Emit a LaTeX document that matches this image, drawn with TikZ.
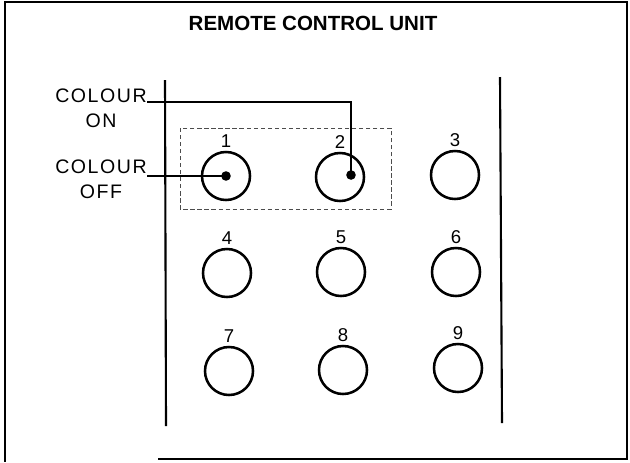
\documentclass[tikz,border=0pt]{standalone}
\usepackage{fontspec}
\setmainfont{Liberation Sans}
\usetikzlibrary{positioning}
\tikzset{
  button/.style={circle, draw, line width=1.8pt, minimum size=1.2cm, inner sep=0pt},
  numlab/.style={inner sep=2pt, font=\fontsize{13.2}{15}\selectfont},
  sidelab/.style={inner sep=0pt, font=\fontsize{13.9}{16}\addfontfeatures{LetterSpace=8}\selectfont},
  dot/.style={circle, fill, inner sep=0pt, minimum size=0.24cm},
  lead/.style={line width=1.1pt},
  rail/.style={line width=1.5pt},
  frame/.style={line width=1pt},
  group/.style={densely dashed, line width=0.4pt, black!70}
}
\begin{document}
\begin{tikzpicture}[x=0.025cm, y=-0.025cm]
    \useasboundingbox (0,0) rectangle (630,462);
    % outer border of the sheet
    \draw[frame] (158,459) -- (627,459) -- (627,2) -- (5,2) -- (5,462);
    \node[font=\fontsize{14.6}{16}\bfseries\selectfont] (ttl) at (313,23) {REMOTE CONTROL UNIT};
    % sides of the handset
    \draw[rail] (165,80) -- (166,426);
    \draw[rail] (500,77) -- (502,423);
    % keys 1 and 2 belong together
    \draw[group] (180,128) rectangle (391,209);
    \foreach \n/\px/\py in {1/226/176, 2/340/177, 3/455/175,
                            4/227/273, 5/341/272, 6/456/272,
                            7/229/371, 8/343/370, 9/458/368}
      \node[button, label={[numlab]above:\n}] (b\n) at (\px,\py) {};
    \node[dot] (d1) at (b1.center) {};
    \node[dot] (d2) at (351,175) {};
    % leader labels
    \node[sidelab, anchor=base east] (colon) at (147,102) {COLOUR};
    \node[sidelab, below=7.8pt of colon] (on) {ON};
    \node[sidelab, anchor=base east] (coloff) at (147,173) {COLOUR};
    \node[sidelab, below=7.8pt of coloff] (off) {OFF};
    \draw[lead] (colon.base east) -| (d2.center);
    \draw[lead] (coloff.base east |- d1.center) -- (d1.center);
\end{tikzpicture}
\end{document}
